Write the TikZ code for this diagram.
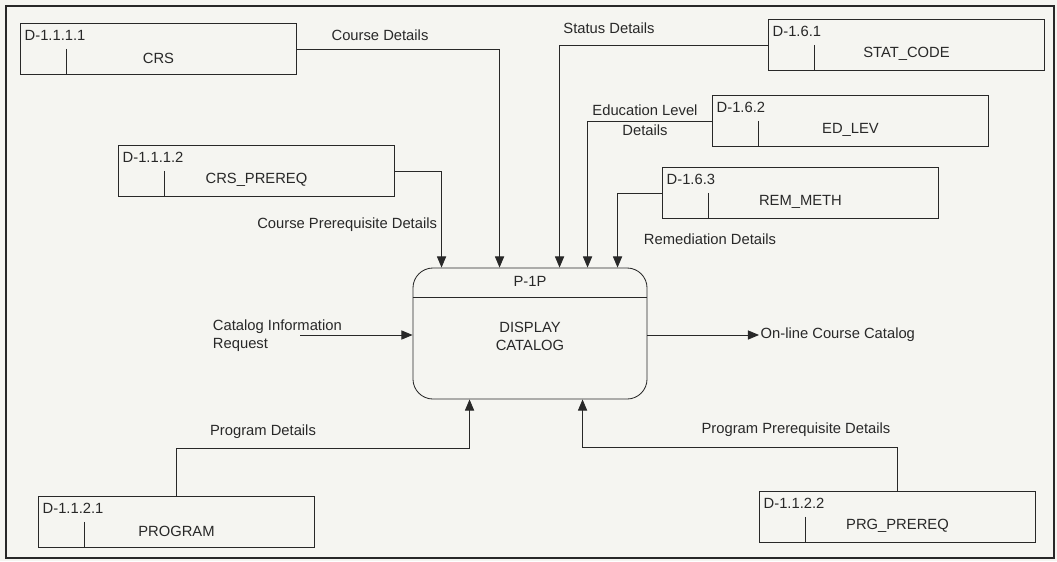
\documentclass[tikz,border=0pt]{standalone}
\usepackage{fontspec}
\setmainfont{Liberation Sans}
\usepackage{tikz}
\usetikzlibrary{arrows.meta, positioning, calc}
\definecolor{paper}{RGB}{245,245,241}
\definecolor{ink}{RGB}{40,40,40}

\begin{document}
\begin{tikzpicture}[x=0.025cm, y=-0.025cm,
  every node/.style={font=\fontsize{10.5}{13}\selectfont, text=ink},
  store/.style={draw=ink, line width=0.6pt, rectangle, anchor=north west,
    minimum width=6.9cm, minimum height=1.275cm, inner sep=0pt},
  proc/.style={draw=ink, line width=0.6pt, rectangle, rounded corners=0.5cm,
    minimum width=5.85cm, minimum height=3.275cm, inner sep=0pt},
  flow/.style={draw=ink, line width=0.6pt, -{Triangle[length=2.8mm,width=2.3mm]}}
]

  \fill[paper] (0,0) rectangle (1057,561);
  \useasboundingbox (0,0) rectangle (1057,561);
  \draw[ink, line width=1pt] (6,6) rectangle (1054,558);

  % Data stores
  \foreach \nm/\x/\y/\id/\lbl in {
    crs/20/23/D-1.1.1.1/CRS,
    crsprereq/118/145/D-1.1.1.2/CRS\_PREREQ,
    statcode/768/19/D-1.6.1/STAT\_CODE,
    edlev/712/95/D-1.6.2/ED\_LEV,
    remmeth/662/167/D-1.6.3/REM\_METH,
    program/38/496/D-1.1.2.1/PROGRAM,
    prgprereq/759/491/D-1.1.2.2/PRG\_PREREQ
  }{
    \node[store] (\nm) at (\x,\y) {};
    \node[anchor=west, inner sep=1pt] (\nm-id) at ($(\nm.north west)+(3,12)$) {\id};
    \draw[ink, line width=0.6pt] ($(\nm.west)+(46,0)$) -- ($(\nm.south west)+(46,0)$);
    \node (\nm-lbl) at ($(\nm.center)+(0,9)$) {\lbl};
  }

  % Process
  \node[proc] (proc) at (530,333.5) {};
  \draw[ink, line width=0.6pt] ($(proc.north west)+(0,30)$) -- ($(proc.north east)+(0,30)$);
  \node (procid) at ($(proc.north)+(0,14)$) {P-1P};
  \node[align=center] (procname) at ($(proc.center)+(0,3)$) {DISPLAY\\CATALOG};

  % Flows into the top of the process
  \draw[flow] (crs.east) -| ($(proc.north west)+(87,0)$);
  \draw[flow] (crsprereq.east) -| ($(proc.north west)+(29,0)$);
  \draw[flow] (statcode.west) -| ($(proc.north west)+(147,0)$);
  \draw[flow] (edlev.west) -| ($(proc.north west)+(175,0)$);
  \draw[flow] (remmeth.west) -| ($(proc.north west)+(205,0)$);

  \node (lcrs) at (380,35) {Course Details};
  \node[anchor=east] (lcrspre) at (442,225) {Course Prerequisite Details};
  \node (lstat) at (609,28) {Status Details};
  \node[align=center] (ledlev) at (645,120) {Education Level\\[1pt]Details};
  \node (lrem) at (710,239) {Remediation Details};

  % Flows into the bottom of the process
  \draw[flow] (program.north) |- ($(proc.south west)+(57,49)$) -- ($(proc.south west)+(57,0)$);
  \draw[flow] (prgprereq.north) |- ($(proc.south west)+(170,48)$) -- ($(proc.south west)+(170,0)$);

  \node (lprg) at (263,432) {Program Details};
  \node (lprgpre) at (796,430) {Program Prerequisite Details};

  % Request in, catalog out
  \node[anchor=west, align=left] (catreq) at (208,336) {Catalog Information\\Request};
  \coordinate (reqstart) at (300,335);
  \draw[flow] (reqstart) -- (reqstart -| proc.west);
  \node[anchor=west, inner sep=1pt] (olcat) at (759,335) {On-line Course Catalog};
  \draw[flow] (proc.east |- olcat.west) -- (olcat.west);

\end{tikzpicture}
\end{document}
